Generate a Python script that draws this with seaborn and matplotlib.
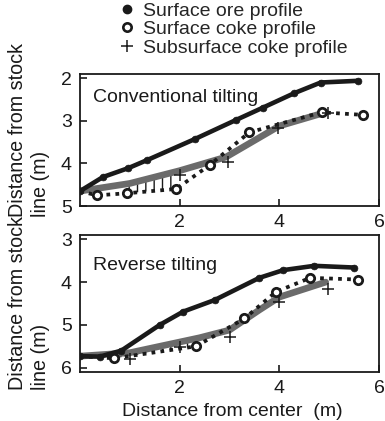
import numpy as np
import pandas as pd
import seaborn as sns
import matplotlib
matplotlib.use("Agg")
import matplotlib.pyplot as plt
from matplotlib.lines import Line2D

# ---------------- data ----------------
ore_top_x = [0.0, 0.46, 0.97, 1.35, 2.3, 3.13, 3.67, 4.3, 4.83, 5.57]
ore_top_y = [4.65, 4.32, 4.11, 3.92, 3.43, 2.98, 2.69, 2.35, 2.1, 2.06]
coke_top_x = [0.0, 0.34, 0.95, 1.93, 2.6, 3.4, 4.85, 5.68]
coke_top_y = [4.65, 4.75, 4.7, 4.6, 4.04, 3.27, 2.8, 2.86]
sub_top_x = [2.0, 2.97, 3.97, 4.97]
sub_top_y = [4.28, 3.97, 3.17, 2.82]
band_top_x = [0.0, 1.0, 2.0, 2.93, 4.0, 4.93]
band_top_y = [4.65, 4.47, 4.17, 3.85, 3.12, 2.8]

ore_bot_x = [0.0, 0.4, 0.83, 1.6, 2.07, 2.7, 3.6, 4.08, 4.7, 5.5]
ore_bot_y = [5.73, 5.74, 5.6, 5.0, 4.69, 4.42, 3.9, 3.72, 3.62, 3.66]
coke_bot_x = [0.0, 0.68, 2.33, 3.3, 3.93, 4.62, 5.57]
coke_bot_y = [5.73, 5.78, 5.5, 4.85, 4.23, 3.9, 3.94]
sub_bot_x = [1.0, 2.0, 3.0, 4.0, 4.97]
sub_bot_y = [5.8, 5.52, 5.28, 4.47, 4.15]
band_bot_x = [0.0, 1.0, 2.4, 3.0, 3.6, 4.0, 4.93]
band_bot_y = [5.73, 5.65, 5.3, 5.12, 4.65, 4.35, 4.0]

x_ticks = [2, 4, 6]
y_ticks_top = [2, 3, 4, 5]
y_ticks_bot = [3, 4, 5, 6]
legend_labels = ["Surface ore profile", "Surface coke profile", "Subsurface coke profile"]
panel_titles = ["Conventional tilting", "Reverse tilting"]
xlabel = "Distance from center  (m)"
ylabel_lines = ["Distance from stock", "line (m)"]

# ---------------- style ----------------
sns.set_theme(style="white")
plt.rcParams["font.family"] = ["Liberation Sans", "DejaVu Sans"]
FS = 14
FS_Y = 14.2

W, H = 385, 421
fig = plt.figure(figsize=(W / 100, H / 100), dpi=100)

def fx(px):
    return px / W

def fy(py):
    return 1 - py / H

ax_top = fig.add_axes([fx(80), fy(206), fx(379) - fx(80), fy(74) - fy(206)])
ax_bot = fig.add_axes([fx(80), fy(372), fx(379) - fx(80), fy(235) - fy(372)])


def draw_panel(ax, ore_x, ore_y, coke_x, coke_y, sub_x, sub_y, band_x, band_y,
               hatch_idx, ylim, yticks, title, title_xy):
    # hatched region between subsurface band and coke profile
    cx = np.array(coke_x)[hatch_idx]
    cy = np.array(coke_y)[hatch_idx]
    by = np.interp(cx, band_x, band_y)
    ax.fill_between(cx, by, cy, facecolor="none", edgecolor="k", hatch="||",
                    linewidth=0, zorder=1)
    # subsurface band
    sns.lineplot(x=band_x, y=band_y, ax=ax, color="0.42", linewidth=4.8,
                 sort=False, estimator=None, zorder=2)
    # coke dotted line
    sns.lineplot(x=coke_x, y=coke_y, ax=ax, color="k", linewidth=2.7,
                 linestyle=(0, (1, 1.4)), sort=False, estimator=None, zorder=3)
    # ore solid line
    sns.lineplot(x=ore_x, y=ore_y, ax=ax, color="k", linewidth=3.3,
                 sort=False, estimator=None, zorder=4)
    # markers
    sns.scatterplot(x=ore_x, y=ore_y, ax=ax, color="k", s=24, marker="o",
                    edgecolor="k", linewidth=0.5, zorder=5)
    sns.scatterplot(x=coke_x[1:], y=coke_y[1:], ax=ax, marker="o", s=36,
                    facecolor="white", edgecolor="k", linewidth=2.0, zorder=5)
    sns.scatterplot(x=sub_x, y=sub_y, ax=ax, marker="+", s=64, color="k",
                    linewidth=1.1, zorder=5)

    ax.set_xlim(0, 6)
    ax.set_ylim(*ylim)
    ax.set_xticks(x_ticks)
    ax.set_yticks(yticks)
    ax.set_xticklabels([str(t) for t in x_ticks])
    ax.set_yticklabels([str(t) for t in yticks])
    ax.tick_params(axis="both", direction="in", length=5, width=1.2,
                   labelsize=FS, colors="k")
    ax.tick_params(axis="x", pad=6)
    ax.tick_params(axis="y", pad=6, left=True)
    ax.tick_params(axis="x", bottom=True)
    for s in ax.spines.values():
        s.set_visible(True)
        s.set_color("k")
        s.set_linewidth(1.3)
    ax.set_xlabel("")
    ax.set_ylabel("")
    ax.text(title_xy[0], title_xy[1], title, transform=ax.transAxes,
            fontsize=FS, ha="left", va="center", color="k")


draw_panel(ax_top, ore_top_x, ore_top_y, coke_top_x, coke_top_y,
           sub_top_x, sub_top_y, band_top_x, band_top_y,
           slice(2, 4), (5.0, 1.9), y_ticks_top, panel_titles[0],
           ((93 - 80) / 299, (206 - 98) / 132))
draw_panel(ax_bot, ore_bot_x, ore_bot_y, coke_bot_x, coke_bot_y,
           sub_bot_x, sub_bot_y, band_bot_x, band_bot_y,
           slice(1, 3), (6.1, 2.9), y_ticks_bot, panel_titles[1],
           ((93 - 80) / 299, (372 - 265) / 137))

# x label
fig.text(fx(232), fy(411), xlabel, fontsize=FS, ha="center", va="center", color="k")

# y labels (two lines each)
for base in (217, 390):
    fig.text(fx(17.5), fy(base), ylabel_lines[0], rotation=90, fontsize=FS_Y,
             ha="center", va="bottom", color="k")
    fig.text(fx(41), fy(base), ylabel_lines[1], rotation=90, fontsize=FS_Y,
             ha="center", va="bottom", color="k")

# legend
handles = [
    Line2D([], [], linestyle="none", marker="o", markersize=6, color="k"),
    Line2D([], [], linestyle="none", marker="o", markersize=6,
           markerfacecolor="white", markeredgecolor="k", markeredgewidth=1.9),
    Line2D([], [], linestyle="none", marker="+", markersize=8, color="k",
           markeredgewidth=1.1),
]
fig.legend(handles, legend_labels, loc="upper left",
           bbox_to_anchor=(fx(118), fy(2)), frameon=False, fontsize=FS,
           handlelength=0.9, handletextpad=0.4, labelspacing=0.05,
           borderpad=0, borderaxespad=0)

fig.savefig("out.png", dpi=100, facecolor="white")
